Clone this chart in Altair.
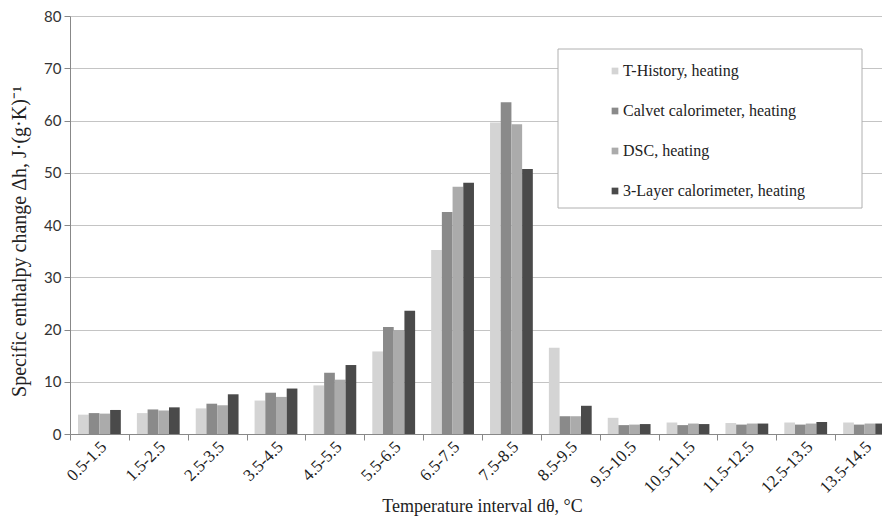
import altair as alt
import pandas as pd

categories = ["0.5-1.5", "1.5-2.5", "2.5-3.5", "3.5-4.5", "4.5-5.5", "5.5-6.5", "6.5-7.5",
              "7.5-8.5", "8.5-9.5", "9.5-10.5", "10.5-11.5", "11.5-12.5", "12.5-13.5", "13.5-14.5"]
series_names = ["T-History, heating", "Calvet calorimeter, heating", "DSC, heating",
                "3-Layer calorimeter, heating"]
t_history = [3.7, 4.0, 4.9, 6.4, 9.3, 15.8, 35.2, 59.6, 16.5, 3.1, 2.2, 2.1, 2.2, 2.2]
calvet = [4.0, 4.7, 5.8, 7.9, 11.7, 20.5, 42.5, 63.5, 3.4, 1.7, 1.7, 1.8, 1.8, 1.8]
dsc = [3.9, 4.5, 5.5, 7.1, 10.4, 19.9, 47.3, 59.3, 3.4, 1.8, 2.0, 2.0, 2.0, 2.0]
layer3 = [4.6, 5.1, 7.6, 8.7, 13.2, 23.6, 48.1, 50.7, 5.4, 1.9, 1.9, 2.0, 2.3, 2.0]
colors = ["#d4d4d4", "#8a8a8a", "#ababab", "#4a4a4a"]

rows = []
for name, vals in zip(series_names, [t_history, calvet, dsc, layer3]):
    for c, v in zip(categories, vals):
        rows.append({"interval": c, "series": name, "value": v})
df = pd.DataFrame(rows)

bars = alt.Chart(df).mark_bar().encode(
    x=alt.X("interval:N", sort=categories,
            scale=alt.Scale(paddingInner=0, paddingOuter=0),
            axis=alt.Axis(title="Temperature interval d\u03b8, \u00b0C", labelAngle=-45,
                          labelAlign="right", labelBaseline="middle", labelOffset=4,
                          tickBand="extent", labelFont="Liberation Serif", labelFontSize=17,
                          labelColor="#222", titleFont="Liberation Serif", titleFontSize=18,
                          titleFontWeight="normal", titleColor="#222", titlePadding=2,
                          domainColor="#888", tickColor="#888", tickSize=6, labelPadding=4,
                          grid=False)),
    xOffset=alt.XOffset("series:N", sort=series_names,
                        scale=alt.Scale(paddingInner=0, paddingOuter=0.75)),
    y=alt.Y("value:Q", scale=alt.Scale(domain=[0, 80]),
            axis=alt.Axis(title="Specific enthalpy change \u0394h, J\u00b7(g\u00b7K)\u207b\u00b9",
                          values=list(range(0, 81, 10)), labelFont="Lato", labelFontSize=15,
                          labelColor="#333", titleFont="Liberation Serif", titleFontSize=20,
                          titleFontWeight="normal", titleColor="#222",
                          titleX=-41, titleY=225, titleAngle=270, titleAlign="center",
                          titleBaseline="bottom",
                          domainColor="#888", tickColor="#888", tickSize=6,
                          gridColor="#c4c4c4", labelPadding=3)),
    color=alt.Color("series:N", sort=series_names,
                    scale=alt.Scale(domain=series_names, range=colors),
                    legend=alt.Legend(title=None, orient="none", legendX=488, legendY=33,
                                      labelFont="Liberation Serif", labelFontSize=16,
                                      labelColor="#222", symbolType="square", symbolSize=45,
                                      symbolStrokeWidth=0, symbolOffset=35, labelOffset=0,
                                      rowPadding=24, padding=14, labelLimit=400)),
)

legend_box = alt.Chart(pd.DataFrame({"box": [0]})).mark_rect(
    fill="white", stroke="#b0b0b0", strokeWidth=1
).encode(
    x=alt.value(488), x2=alt.value(792), y=alt.value(33), y2=alt.value(192)
)

chart = alt.layer(bars, legend_box).properties(
    width=824, height=418,
    autosize=alt.AutoSizeParams(type="none"),
    padding={"left": 62, "top": 8, "right": -12, "bottom": 83},
).configure_view(stroke=None)

chart.save("out.html", embed_options={"renderer": "svg", "actions": False})
